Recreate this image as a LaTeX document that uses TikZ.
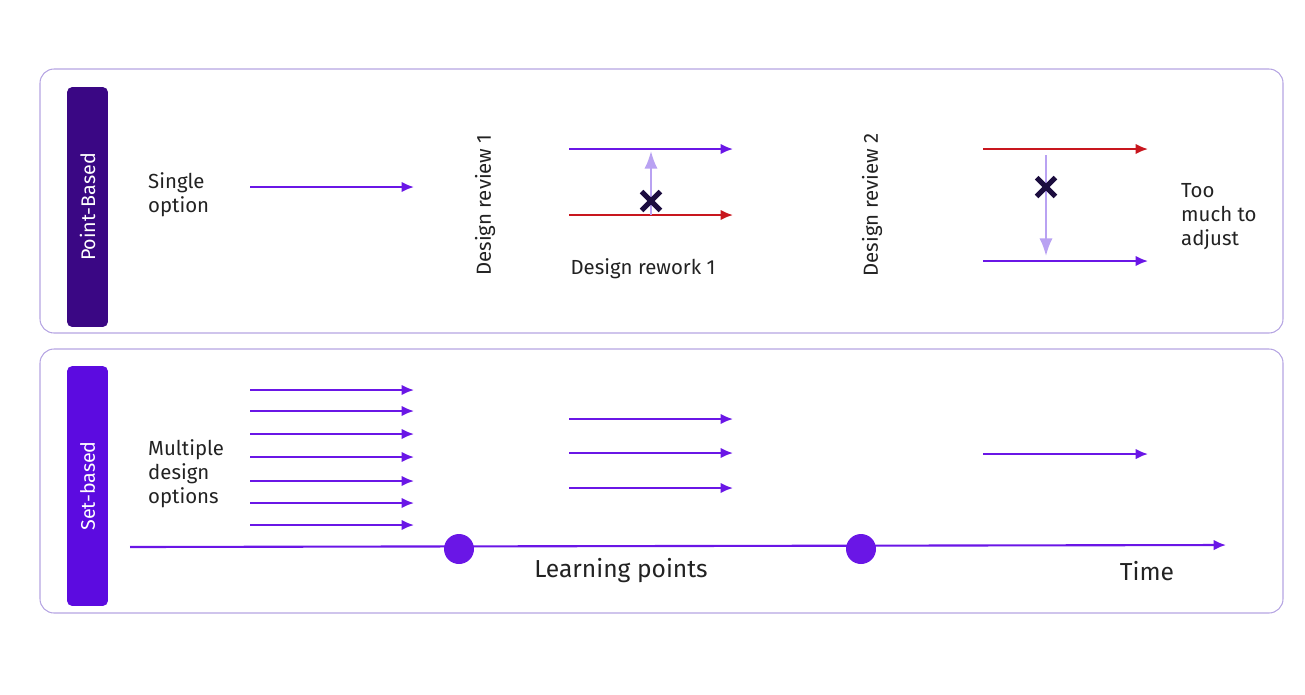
\documentclass[tikz,border=0pt]{standalone}
\usepackage{fontspec}
\setmainfont{Fira Sans}
\usetikzlibrary{arrows.meta,shapes.misc}
\definecolor{optpurple}{HTML}{6A16E6}
\definecolor{optred}{HTML}{C8161E}
\definecolor{optlight}{HTML}{B9A2F2}
\definecolor{crossdark}{HTML}{1C0D3F}
\definecolor{pointbox}{HTML}{3A0784}
\definecolor{setbox}{HTML}{5C0BE0}
\definecolor{panelline}{HTML}{B5A4E2}
\definecolor{txt}{HTML}{222222}
\begin{document}
\begin{tikzpicture}[x=0.02cm, y=-0.02cm,
		panel/.style={draw=panelline, line width=0.6pt, rounded corners=8pt},
		sidebox/.style={rounded corners=3pt, minimum width=0.82cm, minimum height=4.8cm, inner sep=0pt},
		sidetext/.style={rotate=90, text=white, font=\fontsize{11.2}{13}\selectfont},
		opt/.style={-{Latex[length=7pt, width=6pt]}, line width=1.2pt, optpurple},
		bad/.style={-{Latex[length=7pt, width=6pt]}, line width=1.2pt, optred},
		rework/.style={-{Latex[length=10pt, width=7.5pt]}, line width=1.2pt, optlight},
		lbl/.style={text=txt, font=\fontsize{11.6}{13.6}\selectfont, align=left},
		nope/.style={cross out, draw=crossdark, line width=3pt, minimum size=0.27cm, inner sep=0pt},
		learn/.style={circle, fill=optpurple, minimum size=0.6cm, inner sep=0pt}
		]
	\useasboundingbox (0,0) rectangle (1305,694);
	% panels
	\draw[panel] (40,69) rectangle (1283,333);
	\draw[panel] (40,349) rectangle (1283,613);
	\node[sidebox, fill=pointbox] (pb) at (87.5,207) {};
	\node[sidetext] at (pb) {Point-Based};
	\node[sidebox, fill=setbox] (sb) at (87.5,486) {};
	\node[sidetext] at (sb) {Set-based};

	% point-based
	\node[lbl, anchor=west] (single) at (142,195) {Single\\option};
	\coordinate (s0) at (250,187);
	\coordinate (s1) at (414,187);
	\draw[opt] (s0) -- (s1);
	\node[lbl, rotate=90] (rev1) at (485,205) {Design review 1};
	\coordinate (a0) at (569,149);
	\coordinate (a1) at (733,149);
	\coordinate (b0) at (569,215);
	\coordinate (b1) at (733,215);
	\draw[opt] (a0) -- (a1);
	\draw[bad] (b0) -- (b1);
	\coordinate (u0) at (651,215);
	\coordinate (u1) at (651,151);
	\draw[rework] (u0) -- (u1);
	\node[nope] (x1) at (651,201) {};
	\node[lbl] (rew1) at (643,269) {Design rework 1};
	\node[lbl, rotate=90] (rev2) at (872,205) {Design review 2};
	\coordinate (c0) at (983,149);
	\coordinate (c1) at (1148,149);
	\coordinate (d0) at (983,261);
	\coordinate (d1) at (1148,261);
	\draw[bad] (c0) -- (c1);
	\draw[opt] (d0) -- (d1);
	\coordinate (w0) at (1046,155);
	\coordinate (w1) at (1046,256);
	\draw[rework] (w0) -- (w1);
	\node[nope] (x2) at (1046,187) {};
	\node[lbl, anchor=west] (adjust) at (1175,217) {Too\\much to\\adjust};

	% set-based
	\node[lbl, anchor=west] (multi) at (142,474) {Multiple\\design\\options};
	\foreach \y [count=\i] in {390,411,434,457,481,503,525} {
		\coordinate (m\i a) at (250,\y);
		\coordinate (m\i b) at (414,\y);
		\draw[opt] (m\i a) -- (m\i b);
	}
	\foreach \y [count=\i] in {419,453,488} {
		\coordinate (n\i a) at (569,\y);
		\coordinate (n\i b) at (733,\y);
		\draw[opt] (n\i a) -- (n\i b);
	}
	\coordinate (k0) at (983,454);
	\coordinate (k1) at (1148,454);
	\draw[opt] (k0) -- (k1);

	% timeline
	\coordinate (t0) at (130,547);
	\coordinate (t1) at (1226,545);
	\draw[opt] (t0) -- (t1);
	\node[learn] (lp1) at (459,549) {};
	\node[learn] (lp2) at (861,549) {};
	\node[lbl, font=\fontsize{14}{16}\selectfont] (points) at (621,571) {Learning points};
	\node[lbl, font=\fontsize{14}{16}\selectfont] (time) at (1147,571) {Time};
\end{tikzpicture}
\end{document}
